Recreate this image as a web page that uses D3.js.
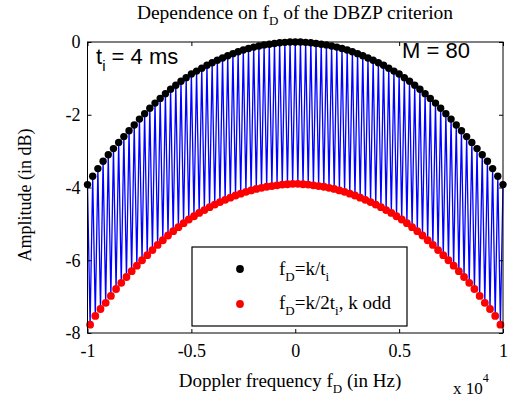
<!DOCTYPE html>
<html lang="en">
<head>
  <meta charset="UTF-8">
  <title>Dependence on fD of the DBZP criterion</title>
  <script src="https://d3js.org/d3.v7.min.js"></script>
  <style>
    body { margin: 0; background: #fff; }
    text { font-family: "Liberation Serif", "Times New Roman", serif; fill: #000; }
    .sans { font-family: "Liberation Sans", Arial, sans-serif; }
  </style>
</head>
<body>
  <svg id="chart" width="515" height="400"></svg>

  <script>
    // Doppler frequencies (Hz): k/t_i with t_i = 4 ms, and the odd half-bins k/2t_i
    const fBlack = d3.range(-10000, 10001, 250);
    const fRed = d3.range(-9875, 9876, 250);

    // amplitude (dB)
    const ampBlack = [
      -3.92, -3.69, -3.48, -3.28, -3.10, -2.93, -2.76, -2.60, -2.44, -2.28,
      -2.12, -1.97, -1.82, -1.68, -1.55, -1.42, -1.30, -1.19, -1.08, -0.98,
      -0.88, -0.80, -0.72, -0.64, -0.57, -0.50, -0.44, -0.38, -0.32, -0.27,
      -0.22, -0.18, -0.14, -0.11, -0.08, -0.06, -0.04, -0.02, -0.01, 0.00,
      0.00,
      0.00, -0.01, -0.02, -0.04, -0.06, -0.08, -0.11, -0.14, -0.18, -0.22,
      -0.27, -0.32, -0.38, -0.44, -0.50, -0.57, -0.64, -0.72, -0.80, -0.88,
      -0.98, -1.08, -1.19, -1.30, -1.42, -1.55, -1.68, -1.82, -1.97, -2.12,
      -2.28, -2.44, -2.60, -2.76, -2.93, -3.10, -3.28, -3.48, -3.69, -3.92
    ];
    const ampRed = [
      -7.77, -7.53, -7.34, -7.17, -6.98, -6.79, -6.62, -6.46, -6.30, -6.15,
      -6.00, -5.86, -5.72, -5.58, -5.45, -5.32, -5.20, -5.09, -4.98, -4.88,
      -4.79, -4.70, -4.62, -4.54, -4.47, -4.40, -4.34, -4.28, -4.22, -4.17,
      -4.12, -4.08, -4.04, -4.01, -3.98, -3.96, -3.94, -3.92, -3.91, -3.90,
      -3.90, -3.91, -3.92, -3.94, -3.96, -3.98, -4.01, -4.04, -4.08, -4.12,
      -4.17, -4.22, -4.28, -4.34, -4.40, -4.47, -4.54, -4.62, -4.70, -4.79,
      -4.88, -4.98, -5.09, -5.20, -5.32, -5.45, -5.58, -5.72, -5.86, -6.00,
      -6.15, -6.30, -6.46, -6.62, -6.79, -6.98, -7.17, -7.34, -7.53, -7.77
    ];

    const xTicks = [-10000, -5000, 0, 5000, 10000];
    const xTickLabels = ["-1", "-0.5", "0", "0.5", "1"];
    const yTicks = [0, -2, -4, -6, -8];
    const yTickLabels = ["0", "-2", "-4", "-6", "-8"];

    const svg = d3.select("#chart");
    const pLeft = 87.5, pRight = 503, pTop = 42, pBottom = 333;

    const x = d3.scaleLinear().domain([-10000, 10000]).range([pLeft, pRight]);
    const y = d3.scaleLinear().domain([-8, 0]).range([pBottom, pTop]);

    // zigzag line: black and red points merged in frequency order
    const blackPts = fBlack.map((f, i) => [f, ampBlack[i]]);
    const redPts = fRed.map((f, i) => [f, ampRed[i]]);
    const allPts = blackPts.concat(redPts).sort((a, b) => a[0] - b[0]);

    svg.append("path")
      .attr("d", d3.line().x(d => x(d[0])).y(d => y(d[1]))(allPts))
      .attr("fill", "none")
      .attr("stroke", "#0000ff")
      .attr("stroke-width", 1.3);

    svg.append("g").selectAll("circle")
      .data(blackPts)
      .enter().append("circle")
      .attr("cx", d => x(d[0]))
      .attr("cy", d => y(d[1]))
      .attr("r", 3.7)
      .attr("fill", "#000");

    svg.append("g").selectAll("circle")
      .data(redPts)
      .enter().append("circle")
      .attr("cx", d => x(d[0]))
      .attr("cy", d => y(d[1]))
      .attr("r", 3.9)
      .attr("fill", "#ff0000");

    // axes box with inward ticks on all four sides
    svg.append("rect")
      .attr("x", pLeft).attr("y", pTop)
      .attr("width", pRight - pLeft).attr("height", pBottom - pTop)
      .attr("fill", "none").attr("stroke", "#000").attr("stroke-width", 1);

    const axB = svg.append("g").attr("transform", `translate(0,${pBottom})`)
      .call(d3.axisBottom(x).tickValues(xTicks).tickSizeInner(-4).tickSizeOuter(0)
        .tickFormat((d, i) => xTickLabels[i]));
    const axT = svg.append("g").attr("transform", `translate(0,${pTop})`)
      .call(d3.axisTop(x).tickValues(xTicks).tickSizeInner(-4).tickSizeOuter(0).tickFormat(""));
    const axL = svg.append("g").attr("transform", `translate(${pLeft},0)`)
      .call(d3.axisLeft(y).tickValues(yTicks).tickSizeInner(-4).tickSizeOuter(0)
        .tickFormat((d, i) => yTickLabels[i]));
    const axR = svg.append("g").attr("transform", `translate(${pRight},0)`)
      .call(d3.axisRight(y).tickValues(yTicks).tickSizeInner(-4).tickSizeOuter(0).tickFormat(""));

    [axB, axT, axL, axR].forEach(a => {
      a.select(".domain").remove();
      a.selectAll("line").attr("stroke", "#000");
      a.selectAll("text").style("font-family", "'Liberation Serif', 'Times New Roman', serif")
        .style("font-size", "18px").attr("fill", "#000");
    });
    axB.selectAll("text").attr("y", 11).attr("dy", "0.71em");
    axL.selectAll("text").attr("x", -7);

    // x 10^4 multiplier
    const mult = svg.append("text").attr("x", 453).attr("y", 394).style("font-size", "17px");
    mult.append("tspan").text("x 10");
    mult.append("tspan").attr("dy", -12).style("font-size", "12px").text("4");

    // title
    const title = svg.append("text").attr("x", 295).attr("y", 19)
      .attr("text-anchor", "middle").style("font-size", "19.5px");
    title.append("tspan").text("Dependence on f");
    title.append("tspan").attr("dy", 6).style("font-size", "13px").text("D");
    title.append("tspan").attr("dy", -6).text(" of the DBZP criterion");

    // axis labels
    const xl = svg.append("text").attr("x", 290).attr("y", 387)
      .attr("text-anchor", "middle").style("font-size", "19px");
    xl.append("tspan").text("Doppler frequency f");
    xl.append("tspan").attr("dy", 6).style("font-size", "13px").text("D");
    xl.append("tspan").attr("dy", -6).text(" (in Hz)");

    svg.append("text")
      .attr("transform", "translate(31,195) rotate(-90)")
      .attr("text-anchor", "middle").style("font-size", "18px")
      .text("Amplitude (in dB)");

    // annotations
    const ti = svg.append("text").attr("class", "sans").attr("x", 96).attr("y", 64)
      .style("font-size", "22px");
    ti.append("tspan").text("t");
    ti.append("tspan").attr("dy", 7).style("font-size", "15px").text("i");
    ti.append("tspan").attr("dy", -7).text(" = 4 ms");

    svg.append("text").attr("class", "sans").attr("x", 402).attr("y", 58)
      .style("font-size", "22px").text("M = 80");

    // legend
    const lg = svg.append("g");
    lg.append("rect")
      .attr("x", 192).attr("y", 247).attr("width", 215).attr("height", 79)
      .attr("fill", "#fff").attr("stroke", "#000").attr("stroke-width", 1.2);
    lg.append("circle").attr("cx", 240).attr("cy", 269).attr("r", 3.9).attr("fill", "#000");
    lg.append("circle").attr("cx", 240).attr("cy", 304).attr("r", 3.9).attr("fill", "#ff0000");

    const l1 = lg.append("text").attr("x", 279).attr("y", 275).style("font-size", "19px");
    l1.append("tspan").text("f");
    l1.append("tspan").attr("dy", 6).style("font-size", "13px").text("D");
    l1.append("tspan").attr("dy", -6).text("=k/t");
    l1.append("tspan").attr("dy", 6).style("font-size", "13px").text("i");

    const l2 = lg.append("text").attr("x", 279).attr("y", 309).style("font-size", "19px");
    l2.append("tspan").text("f");
    l2.append("tspan").attr("dy", 6).style("font-size", "13px").text("D");
    l2.append("tspan").attr("dy", -6).text("=k/2t");
    l2.append("tspan").attr("dy", 6).style("font-size", "13px").text("i");
    l2.append("tspan").attr("dy", -6).text(", k odd");
  </script>
</body>
</html>
